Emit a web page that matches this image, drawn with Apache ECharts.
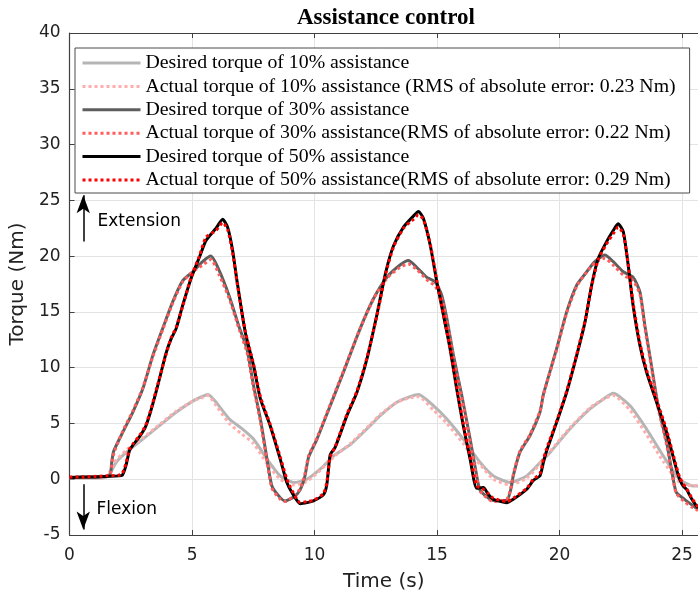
<!DOCTYPE html>
<html>
<head>
<meta charset="utf-8">
<title>Assistance control</title>
<script src="https://cdn.jsdelivr.net/npm/echarts@6/dist/echarts.min.js"></script>
<style>
  html, body { margin: 0; padding: 0; background: #fff; }
  #chart { width: 698px; height: 600px; }
</style>
</head>
<body>
<div id="chart"></div>
<script>
// Knee torque traces, [time (s), torque (Nm)]
const desired10 = [[0,0.1],[1.0,0.1],[1.5,0.2],[1.67,0.6],[1.9,1.5],[2.31,2.4],[2.99,3.6],[3.67,4.8],[4.35,6.0],[5.03,7.0],[5.4,7.4],[5.65,7.6],[5.98,6.9],[6.52,5.4],[7.0,4.6],[7.51,3.6],[8.06,1.8],[8.6,0.3],[9.15,-0.3],[9.69,0.0],[10.23,0.9],[10.78,2.1],[11.46,3.1],[12.27,4.8],[12.68,5.7],[13.36,6.9],[13.9,7.4],[14.24,7.6],[14.85,6.6],[15.4,5.4],[16.07,3.6],[16.76,1.5],[17.3,0.3],[17.98,-0.3],[18.66,0.3],[19.34,1.8],[19.61,2.4],[20.42,4.5],[21.24,6.3],[21.8,7.2],[22.19,7.7],[22.87,6.6],[23.55,4.5],[24.23,2.1],[24.9,0.0],[25.45,-0.6],[25.65,-0.6]];
const actual10 = [[0,0.15],[1.0,0.1],[1.5,0.2],[1.7,0.9],[1.9,1.7],[2.31,2.6],[2.99,3.7],[3.67,4.9],[4.35,6.1],[5.03,7.0],[5.4,7.3],[5.65,7.5],[5.98,6.6],[6.52,5.0],[7.0,4.1],[7.51,3.2],[8.06,1.4],[8.6,0.0],[9.15,-0.5],[9.69,-0.2],[10.23,0.8],[10.78,2.0],[11.46,3.2],[12.27,4.9],[12.68,5.8],[13.36,6.9],[13.9,7.3],[14.24,7.4],[14.85,6.2],[15.4,5.0],[16.07,3.2],[16.5,1.9],[16.76,1.3],[17.3,0.0],[17.98,-0.5],[18.66,0.1],[19.34,1.7],[19.61,2.5],[20.42,4.6],[21.24,6.4],[21.8,7.2],[22.19,7.5],[22.87,6.2],[23.55,4.0],[24.23,1.6],[24.9,-0.3],[25.45,-0.6],[25.65,-0.5]];
const desired30 = [[0,0.15],[0.8,0.2],[1.63,0.3],[1.72,1.5],[1.8,2.5],[2.17,4.2],[2.58,6.0],[2.99,8.1],[3.4,11.1],[3.8,13.5],[4.21,15.9],[4.62,17.8],[5.03,18.6],[5.43,19.5],[5.77,20.0],[6.11,18.7],[6.52,16.4],[6.93,13.6],[7.24,11.7],[7.51,8.4],[7.79,5.4],[8.06,1.8],[8.26,-0.6],[8.6,-1.65],[8.8,-1.95],[9.15,-1.6],[9.4,-1.0],[9.6,0.2],[9.76,2.0],[10.1,3.6],[10.64,6.6],[11.18,9.6],[11.86,13.5],[12.41,16.2],[12.95,18.1],[13.49,19.2],[13.83,19.6],[14.17,19.0],[14.58,18.1],[14.92,17.7],[15.19,16.5],[15.4,14.4],[15.67,11.1],[16.01,7.5],[16.35,3.6],[16.62,0.3],[16.76,-1.0],[17.3,-1.9],[17.84,-1.9],[18.0,-1.0],[18.11,0.3],[18.38,2.4],[18.79,3.9],[19.2,6.0],[19.34,7.6],[19.88,11.7],[20.29,15.0],[20.7,17.4],[21.04,18.4],[21.44,19.5],[21.85,20.1],[22.19,19.5],[22.6,18.6],[23.0,18.1],[23.28,16.8],[23.48,13.8],[23.75,10.2],[24.02,6.6],[24.37,3.3],[24.64,0.0],[24.77,-1.2],[25.1,-1.8],[25.4,-2.3],[25.65,-2.7]];
const actual30 = [[0,0.15],[0.8,0.2],[1.63,0.35],[1.75,1.8],[1.85,2.6],[2.17,4.3],[2.58,6.1],[2.99,8.2],[3.4,11.0],[3.8,13.4],[4.21,15.8],[4.62,17.7],[5.03,18.6],[5.43,19.2],[5.77,19.7],[6.11,18.3],[6.52,16.2],[6.93,13.4],[7.24,11.4],[7.51,8.2],[7.79,5.2],[8.06,1.6],[8.26,-0.8],[8.6,-1.8],[8.8,-2.0],[9.15,-1.5],[9.4,-0.9],[9.6,0.4],[9.76,2.1],[10.1,3.7],[10.64,6.7],[11.18,9.7],[11.86,13.5],[12.41,16.2],[12.95,18.0],[13.49,19.0],[13.83,19.3],[14.17,18.8],[14.58,17.9],[14.92,17.3],[15.19,16.2],[15.4,14.2],[15.67,10.9],[16.01,7.3],[16.35,3.4],[16.62,0.1],[16.76,-1.1],[17.3,-2.0],[17.84,-1.8],[18.0,-0.9],[18.11,0.4],[18.38,2.5],[18.79,4.0],[19.2,6.1],[19.34,7.6],[19.88,11.6],[20.29,14.9],[20.7,17.3],[21.04,18.4],[21.44,19.4],[21.85,19.8],[22.19,19.2],[22.6,18.3],[23.0,17.8],[23.28,16.6],[23.48,13.6],[23.75,10.0],[24.02,6.4],[24.37,3.1],[24.64,-0.1],[24.77,-1.3],[25.1,-2.0],[25.4,-2.5],[25.65,-2.8]];
const desired50 = [[0,0.15],[0.5,0.2],[1.0,0.2],[1.5,0.25],[2.0,0.3],[2.15,0.35],[2.3,1.2],[2.45,2.6],[2.6,3.1],[2.85,3.8],[3.1,4.7],[3.3,6.0],[3.6,8.4],[3.94,11.3],[4.15,12.6],[4.35,13.5],[4.62,15.6],[4.96,18.0],[5.3,19.9],[5.57,21.4],[5.98,22.5],[6.25,23.3],[6.45,22.6],[6.65,20.6],[6.84,17.7],[7.17,13.2],[7.51,10.2],[7.79,7.2],[8.19,4.8],[8.6,1.8],[8.87,-0.3],[9.08,-1.2],[9.42,-2.2],[9.7,-2.1],[9.95,-1.95],[10.36,-1.4],[10.5,-0.5],[10.64,2.2],[10.84,2.85],[11.32,5.7],[11.73,7.8],[12.14,10.8],[12.54,14.7],[12.9,18.5],[13.22,20.9],[13.63,22.6],[14.04,23.6],[14.24,24.0],[14.44,23.4],[14.72,21.0],[14.99,17.7],[15.26,14.7],[15.53,11.7],[15.8,8.1],[16.07,4.8],[16.35,1.8],[16.62,-0.8],[16.89,-0.75],[17.1,-1.4],[17.3,-1.8],[17.84,-2.1],[18.11,-1.8],[18.66,-0.9],[18.93,-0.1],[19.2,0.3],[19.34,1.5],[19.45,2.4],[19.88,5.1],[20.29,7.8],[20.7,11.1],[21.04,14.1],[21.31,17.4],[21.58,19.8],[21.92,21.3],[22.19,22.3],[22.39,22.9],[22.6,22.2],[22.8,19.2],[23.0,15.6],[23.28,12.0],[23.55,9.6],[23.96,6.9],[24.37,4.2],[24.77,0.9],[24.9,0.0],[25.04,-0.6],[25.18,-0.9],[25.4,-1.8],[25.65,-2.6]];
const actual50 = [[0,0.2],[0.5,0.2],[1.0,0.25],[1.5,0.3],[2.0,0.35],[2.15,0.5],[2.3,1.4],[2.45,2.7],[2.6,3.2],[2.85,3.9],[3.1,4.8],[3.3,6.1],[3.6,8.5],[3.94,11.2],[4.15,12.7],[4.35,13.6],[4.62,15.5],[4.96,18.1],[5.3,20.0],[5.57,21.7],[5.98,22.3],[6.25,23.0],[6.45,22.4],[6.65,20.4],[6.84,17.6],[7.17,13.3],[7.51,10.3],[7.79,7.4],[8.19,4.9],[8.6,2.0],[8.87,0.0],[9.08,-1.0],[9.42,-2.1],[9.7,-2.0],[9.95,-1.9],[10.36,-1.3],[10.5,-0.3],[10.64,2.0],[10.84,2.9],[11.32,5.8],[11.73,7.9],[12.14,10.9],[12.54,14.6],[12.9,18.4],[13.22,20.8],[13.63,22.5],[14.04,23.3],[14.24,23.7],[14.44,23.3],[14.72,21.1],[14.99,17.8],[15.26,14.8],[15.53,11.8],[15.8,8.3],[16.07,5.0],[16.35,2.0],[16.62,-0.6],[16.89,-0.9],[17.1,-1.3],[17.3,-1.7],[17.84,-2.0],[18.11,-1.7],[18.66,-0.8],[18.93,0.0],[19.2,0.5],[19.34,1.8],[19.45,2.6],[19.88,5.2],[20.29,7.9],[20.7,11.2],[21.04,14.2],[21.31,17.3],[21.58,19.7],[21.92,21.1],[22.19,22.0],[22.39,22.6],[22.6,22.0],[22.8,19.3],[23.0,15.8],[23.28,12.2],[23.55,9.8],[23.96,7.1],[24.37,4.4],[24.77,1.1],[24.9,0.2],[25.04,-0.4],[25.18,-0.8],[25.4,-1.7],[25.65,-2.5]];

const seriesNames = [
  'Desired torque of 10% assistance',
  'Actual torque of 10% assistance (RMS of absolute error: 0.23 Nm)',
  'Desired torque of 30% assistance',
  'Actual torque of 30% assistance(RMS of absolute error: 0.22 Nm)',
  'Desired torque of 50% assistance',
  'Actual torque of 50% assistance(RMS of absolute error: 0.29 Nm)'
];
const xTicks = [0, 5, 10, 15, 20, 25];
const yTicks = [-5, 0, 5, 10, 15, 20, 25, 30, 35, 40];

const sans = 'DejaVu Sans';
const serif = 'Liberation Serif';
const dotted = [3, 3];

function lineSeries(name, data, color, dashed) {
  return {
    name: name,
    type: 'line',
    data: data,
    symbol: 'none',
    smooth: 0.2,
    color: color,
    lineStyle: { color: color, width: 3, type: dashed ? dotted : 'solid' },
    z: 2
  };
}

const series = [
  lineSeries(seriesNames[0], desired10, '#b5b5b5', false),
  lineSeries(seriesNames[1], actual10, '#ffadad', true),
  lineSeries(seriesNames[2], desired30, '#5e5e5e', false),
  lineSeries(seriesNames[3], actual30, '#ff5c5c', true),
  lineSeries(seriesNames[4], desired50, '#000000', false),
  lineSeries(seriesNames[5], actual50, '#ff0000', true)
];

// Extension / flexion direction arrows and their captions
series[0].markLine = {
  silent: true,
  symbol: ['none', 'arrow'],
  symbolSize: [10, 18],
  label: { show: false },
  lineStyle: { color: '#000', width: 1.5, type: 'solid' },
  data: [
    [{ coord: [0.56, 21.3] }, { coord: [0.56, 25.45] }],
    [{ coord: [0.56, -0.45] }, { coord: [0.56, -4.5] }]
  ]
};
series[0].markPoint = {
  silent: true,
  symbol: 'circle',
  symbolSize: 0,
  itemStyle: { color: 'transparent' },
  label: {
    show: true, position: 'right', distance: 0,
    formatter: '{b}', color: '#000', fontFamily: sans, fontSize: 17
  },
  data: [
    { name: 'Extension', coord: [1.14, 23.1] },
    { name: 'Flexion', coord: [1.1, -2.75] }
  ]
};

const chart = echarts.init(document.getElementById('chart'), null, { renderer: 'canvas' });
chart.setOption({
  animation: false,
  backgroundColor: '#fff',
  title: {
    text: 'Assistance control',
    left: 292, top: 2,
    textStyle: { fontFamily: serif, fontWeight: 'bold', fontSize: 23, color: '#000' }
  },
  legend: {
    data: seriesNames,
    orient: 'vertical',
    left: 75, top: 48,
    padding: [5, 14, 3, 6],
    itemWidth: 58, itemHeight: 14, itemGap: 3.4,
    itemStyle: { opacity: 0, borderWidth: 0 },
    lineStyle: { width: 3 },
    backgroundColor: '#fff',
    borderColor: '#4a4a4a', borderWidth: 1,
    textStyle: { fontFamily: serif, fontSize: 19.8, color: '#000', lineHeight: 20 },
    selectedMode: false
  },
  grid: { left: 69, top: 33, right: 0, bottom: 65, containLabel: false },
  xAxis: [{
    type: 'value', min: 0, max: 25.65, interval: 5,
    name: 'Time (s)', nameLocation: 'middle', nameGap: 37,
    nameTextStyle: { fontFamily: sans, fontSize: 20, color: '#222' },
    axisLine: { show: true, onZero: false, lineStyle: { color: '#404040', width: 1.2 } },
    axisTick: { show: true, inside: true, length: 5, lineStyle: { color: '#404040' } },
    axisLabel: {
      fontFamily: sans, fontSize: 17, color: '#222', margin: 12,
      showMaxLabel: false,
      formatter: v => (xTicks.indexOf(v) >= 0 ? String(v) : '')
    },
    splitLine: { show: true, lineStyle: { color: '#e3e3e3', width: 1 } }
  }, {
    type: 'value', position: 'top', min: 0, max: 25.65, interval: 5,
    axisLine: { show: true, onZero: false, lineStyle: { color: '#404040', width: 1.2 } },
    axisTick: { show: true, inside: true, length: 5, lineStyle: { color: '#404040' } },
    axisLabel: { show: false },
    splitLine: { show: false }
  }],
  yAxis: {
    type: 'value', min: -5, max: 40, interval: 5,
    name: 'Torque (Nm)', nameLocation: 'middle', nameGap: 35,
    nameTextStyle: { fontFamily: sans, fontSize: 20, color: '#222' },
    axisLine: { show: true, onZero: false, lineStyle: { color: '#404040', width: 1.2 } },
    axisTick: { show: true, inside: true, length: 5, lineStyle: { color: '#404040' } },
    axisLabel: {
      fontFamily: sans, fontSize: 17, color: '#222', margin: 9,
      formatter: v => (yTicks.indexOf(v) >= 0 ? String(v) : '')
    },
    splitLine: { show: true, lineStyle: { color: '#e3e3e3', width: 1 } }
  },
  series: series
});
</script>
</body>
</html>
